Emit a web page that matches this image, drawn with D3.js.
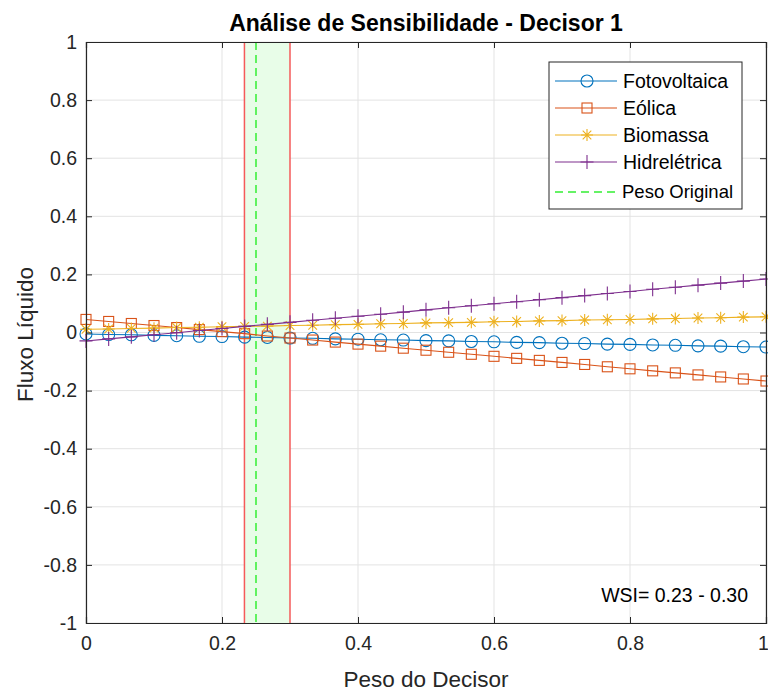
<!DOCTYPE html>
<html>
<head>
<meta charset="utf-8">
<script src="https://cdn.jsdelivr.net/npm/d3@7"></script>
<style>
  body { margin: 0; background: #fff; }
  svg { font-family: "Liberation Sans", Arial, sans-serif; }
</style>
</head>
<body>
<svg id="chart" width="768" height="691"></svg>
<script>
// --- data ---
const pesos = d3.range(31).map(i => i / 30);

const fotovoltaica = [-0.005, -0.007, -0.008, -0.010, -0.011, -0.013, -0.014, -0.016, -0.017, -0.019,
  -0.020, -0.022, -0.023, -0.025, -0.026, -0.028, -0.029, -0.031, -0.032, -0.034,
  -0.035, -0.037, -0.038, -0.040, -0.041, -0.043, -0.044, -0.046, -0.047, -0.049, -0.050];
const eolica = [0.045, 0.038, 0.031, 0.024, 0.017, 0.010, 0.003, -0.004, -0.012, -0.019,
  -0.026, -0.033, -0.040, -0.047, -0.054, -0.061, -0.068, -0.075, -0.082, -0.089,
  -0.096, -0.103, -0.110, -0.118, -0.125, -0.132, -0.139, -0.146, -0.153, -0.160, -0.167];
const biomassa = [0.011, 0.012, 0.014, 0.015, 0.017, 0.018, 0.020, 0.021, 0.022, 0.024,
  0.025, 0.027, 0.028, 0.030, 0.031, 0.033, 0.034, 0.035, 0.037, 0.038,
  0.040, 0.041, 0.043, 0.044, 0.045, 0.047, 0.048, 0.050, 0.051, 0.053, 0.054];
const hidreletrica = [-0.029, -0.022, -0.015, -0.008, -0.001, 0.007, 0.014, 0.021, 0.028, 0.035,
  0.042, 0.049, 0.056, 0.063, 0.070, 0.078, 0.085, 0.092, 0.099, 0.106,
  0.113, 0.120, 0.127, 0.134, 0.141, 0.149, 0.156, 0.163, 0.170, 0.177, 0.184];

const seriesNames = ['Fotovoltaica', 'Eólica', 'Biomassa', 'Hidrelétrica'];
const seriesValues = [fotovoltaica, eolica, biomassa, hidreletrica];
const seriesColors = ['#0072BD', '#D95319', '#EDB120', '#7E2F8E'];
const seriesMarkers = ['circle', 'square', 'asterisk', 'plus'];

const pesoOriginal = 0.25;
const wsiRange = [0.233, 0.30];
const wsiLabel = 'WSI= 0.23 - 0.30';

const xTicks = [0, 0.2, 0.4, 0.6, 0.8, 1];
const yTicks = [-1, -0.8, -0.6, -0.4, -0.2, 0, 0.2, 0.4, 0.6, 0.8, 1];

// --- layout ---
const margin = { top: 42, right: 2, bottom: 68, left: 86 };
const W = 768, H = 691;
const width = W - margin.left - margin.right;
const height = H - margin.top - margin.bottom;

const svg = d3.select('#chart');
const g = svg.append('g').attr('transform', `translate(${margin.left},${margin.top})`);

const x = d3.scaleLinear().domain([0, 1]).range([0, width]);
const y = d3.scaleLinear().domain([-1, 1]).range([height, 0]);

const axisColor = '#262626';
const fontSize = '19.5px';

// grid
g.append('g').selectAll('line').data(xTicks).join('line')
  .attr('x1', d => x(d)).attr('x2', d => x(d))
  .attr('y1', 0).attr('y2', height)
  .attr('stroke', '#e3e3e3').attr('stroke-width', 1);
g.append('g').selectAll('line').data(yTicks).join('line')
  .attr('x1', 0).attr('x2', width)
  .attr('y1', d => y(d)).attr('y2', d => y(d))
  .attr('stroke', '#e3e3e3').attr('stroke-width', 1);

// shaded WSI band + bounds
g.append('rect')
  .attr('x', x(wsiRange[0])).attr('y', 0)
  .attr('width', x(wsiRange[1]) - x(wsiRange[0])).attr('height', height)
  .attr('fill', '#e8fde8');
g.selectAll('.wsi-line').data(wsiRange).join('line')
  .attr('class', 'wsi-line')
  .attr('x1', d => x(d)).attr('x2', d => x(d))
  .attr('y1', 0).attr('y2', height)
  .attr('stroke', '#f55a5a').attr('stroke-width', 1.5);
g.append('line')
  .attr('x1', x(pesoOriginal)).attr('x2', x(pesoOriginal))
  .attr('y1', 0).attr('y2', height)
  .attr('stroke', '#33ee33').attr('stroke-width', 1.5)
  .attr('stroke-dasharray', '8,5');

// marker drawing
function drawMarker(sel, type, color) {
  if (type === 'circle') {
    sel.append('circle').attr('r', 6).attr('fill', 'none')
      .attr('stroke', color).attr('stroke-width', 1.1);
  } else if (type === 'square') {
    sel.append('rect').attr('x', -5).attr('y', -5).attr('width', 10).attr('height', 10)
      .attr('fill', 'none').attr('stroke', color).attr('stroke-width', 1.1);
  } else if (type === 'asterisk') {
    sel.append('path')
      .attr('d', 'M-6,0H6M0,-6V6M-4.3,-4.3L4.3,4.3M-4.3,4.3L4.3,-4.3')
      .attr('fill', 'none').attr('stroke', color).attr('stroke-width', 1.1);
  } else {
    sel.append('path')
      .attr('d', 'M-6.5,0H6.5M0,-7V7')
      .attr('fill', 'none').attr('stroke', color).attr('stroke-width', 1.1);
  }
}

const line = d3.line().x((d, i) => x(pesos[i])).y(d => y(d));

seriesValues.forEach((vals, k) => {
  const sg = g.append('g');
  sg.append('path').datum(vals)
    .attr('d', line).attr('fill', 'none')
    .attr('stroke', seriesColors[k]).attr('stroke-width', 1.1);
  sg.selectAll('g.m').data(vals).join('g')
    .attr('class', 'm')
    .attr('transform', (d, i) => `translate(${x(pesos[i])},${y(d)})`)
    .each(function () { drawMarker(d3.select(this), seriesMarkers[k], seriesColors[k]); });
});

// axes box with inward ticks
const tickLen = 6;
const fmt = d => {
  const a = Math.abs(d);
  return (d < 0 ? '-' : '') + (a === 0 || a === 1 ? String(a) : a.toFixed(1));
};
const xAxisB = d3.axisBottom(x).tickValues(xTicks).tickSize(-tickLen).tickPadding(13).tickFormat(fmt);
const yAxisL = d3.axisLeft(y).tickValues(yTicks).tickSize(-tickLen).tickPadding(9).tickFormat(fmt);

const xa = g.append('g').attr('transform', `translate(0,${height})`).call(xAxisB);
const ya = g.append('g').call(yAxisL);
const xt = g.append('g').call(d3.axisTop(x).tickValues(xTicks).tickSize(-tickLen).tickFormat(''));
const yr = g.append('g').attr('transform', `translate(${width},0)`)
  .call(d3.axisRight(y).tickValues(yTicks).tickSize(-tickLen).tickFormat(''));

[xa, ya, xt, yr].forEach(a => {
  a.select('.domain').attr('stroke', axisColor).attr('stroke-width', 1.2);
  a.selectAll('.tick line').attr('stroke', axisColor);
  a.selectAll('.tick text').attr('fill', axisColor).style('font-size', fontSize)
    .style('font-family', '"Liberation Sans", Arial, sans-serif');
});
// keep the last x label inside the page
xa.selectAll('.tick text').filter(d => d === 1).attr('dx', '-3');

// legend
const legend = svg.append('g').attr('transform', 'translate(549,62)');
legend.append('rect').attr('width', 193).attr('height', 147)
  .attr('fill', '#fff').attr('stroke', axisColor).attr('stroke-width', 1);
seriesNames.forEach((name, k) => {
  const ly = 19 + k * 27;
  const lg = legend.append('g').attr('transform', `translate(0,${ly})`);
  lg.append('line').attr('x1', 6).attr('x2', 68).attr('y1', 0).attr('y2', 0)
    .attr('stroke', seriesColors[k]).attr('stroke-width', 1.1);
  const mg = lg.append('g').attr('transform', 'translate(38,0)');
  drawMarker(mg, seriesMarkers[k], seriesColors[k]);
  lg.append('text').attr('x', 74).attr('y', 0).attr('dy', '0.35em')
    .style('font-size', fontSize).attr('fill', '#000').text(name);
});
const lo = legend.append('g').attr('transform', `translate(0,${19 + 4 * 27 + 3})`);
lo.append('line').attr('x1', 6).attr('x2', 68).attr('y1', 0).attr('y2', 0)
  .attr('stroke', '#33ee33').attr('stroke-width', 1.5).attr('stroke-dasharray', '8,5');
lo.append('text').attr('x', 73).attr('y', 0).attr('dy', '0.35em')
  .style('font-size', '18.5px').attr('fill', '#000').text('Peso Original');

// WSI annotation
g.append('text').attr('x', width - 18).attr('y', height - 21)
  .attr('text-anchor', 'end').style('font-size', fontSize).attr('fill', '#000')
  .text(wsiLabel);

// title and labels
svg.append('text').attr('x', margin.left + width / 2).attr('y', 31)
  .attr('text-anchor', 'middle').style('font-size', '23px').style('font-weight', 'bold')
  .attr('fill', '#000').text('Análise de Sensibilidade - Decisor 1');
svg.append('text').attr('x', margin.left + width / 2).attr('y', 687)
  .attr('text-anchor', 'middle').style('font-size', '22.5px').attr('fill', axisColor)
  .text('Peso do Decisor');
svg.append('text')
  .attr('transform', `translate(33,${margin.top + height / 2 + 2}) rotate(-90)`)
  .attr('text-anchor', 'middle').style('font-size', '22.5px').attr('fill', axisColor)
  .text('Fluxo Líquido');
</script>
</body>
</html>
